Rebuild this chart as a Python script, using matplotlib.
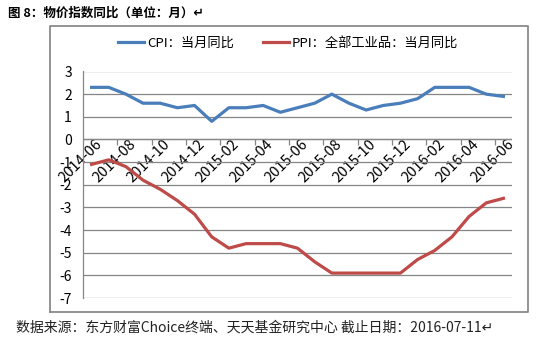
import matplotlib
matplotlib.use("Agg")
import matplotlib.pyplot as plt
from matplotlib.lines import Line2D
from matplotlib.transforms import ScaledTranslation

plt.rcParams['font.family'] = ['Noto Sans CJK SC', 'DejaVu Sans']

# 月份与同比数据（%）
months = ['2014-06', '2014-07', '2014-08', '2014-09', '2014-10', '2014-11', '2014-12',
          '2015-01', '2015-02', '2015-03', '2015-04', '2015-05', '2015-06', '2015-07',
          '2015-08', '2015-09', '2015-10', '2015-11', '2015-12', '2016-01', '2016-02',
          '2016-03', '2016-04', '2016-05', '2016-06']
cpi = [2.3, 2.3, 2.0, 1.6, 1.6, 1.4, 1.5, 0.8, 1.4, 1.4, 1.5, 1.2, 1.4, 1.6,
       2.0, 1.6, 1.3, 1.5, 1.6, 1.8, 2.3, 2.3, 2.3, 2.0, 1.9]
ppi = [-1.1, -0.9, -1.2, -1.8, -2.2, -2.7, -3.3, -4.3, -4.8, -4.6, -4.6, -4.6, -4.8, -5.4,
       -5.9, -5.9, -5.9, -5.9, -5.9, -5.3, -4.9, -4.3, -3.4, -2.8, -2.6]
cpi_label = 'CPI：当月同比'
ppi_label = 'PPI：全部工业品：当月同比'
yticks = list(range(-7, 4))

blue = '#4A7EBB'
red = '#BE4B48'
grid_c = '#868686'

fig = plt.figure(figsize=(5.57, 3.43), dpi=100)
W, H = 557, 343

# 标题与脚注
fig.text(8 / W, 1 - 13 / H, '图 8：物价指数同比（单位：月）↵', fontsize=9,
         fontweight='bold', ha='left', va='center')
fig.text(16 / W, 1 - 328 / H, '数据来源：东方财富Choice终端、天天基金研究中心 截止日期：2016-07-11↵',
         fontsize=10, ha='left', va='center', color='#222222')

ax = fig.add_axes([83 / W, 1 - 298 / H, (512 - 83) / W, (298 - 71.5) / H])
x = list(range(len(months)))
ax.plot(x, cpi, color=blue, linewidth=2.3, solid_joinstyle='round', zorder=3)
ax.plot(x, ppi, color=red, linewidth=2.3, solid_joinstyle='round', zorder=3)

# 图表外框
x0, x1, y0, y1 = 50 / W, 528 / W, 1 - 312 / H, 1 - 26 / H
ax.plot([x0, x1, x1, x0, x0], [y0, y0, y1, y1, y0], transform=fig.transFigure,
        clip_on=False, color='#8a8a8a', linewidth=1.3, zorder=5)

ax.set_xlim(-0.5, len(months) - 0.5)
ax.set_ylim(-7, 3)
ax.set_yticks(yticks)
ax.set_yticklabels([str(v) for v in yticks])
ax.yaxis.grid(True, color=grid_c, linewidth=0.9)
ax.set_axisbelow(True)
ax.tick_params(axis='y', length=0, pad=8, labelsize=10)

for s in ['top', 'right', 'bottom']:
    ax.spines[s].set_visible(False)
ax.spines['left'].set_color(grid_c)
ax.spines['left'].set_linewidth(0.9)

# 横轴放在零线处
ax.axhline(0, color=grid_c, linewidth=0.9, zorder=1)
ax.set_xticks(x[::2])
ax.set_xticklabels(months[::2])
ax.set_xticks([i - 0.5 for i in x[::2]][1:], minor=True)
ax.tick_params(axis='x', which='major', length=0, pad=0, labelsize=10.5)
ax.tick_params(axis='x', which='minor', length=4, color=grid_c, width=0.9)
ax.spines['bottom'].set_position(('data', 0))
for lbl in ax.get_xticklabels():
    lbl.set_rotation(45)
    lbl.set_ha('right')
    lbl.set_va('top')
    lbl.set_rotation_mode('anchor')
    lbl.set_transform(lbl.get_transform() + ScaledTranslation(0.03, 0.02, fig.dpi_scale_trans))

# 图例
handles = [Line2D([], [], color=blue, linewidth=2.3), Line2D([], [], color=red, linewidth=2.3)]
fig.legend(handles, [cpi_label, ppi_label], loc='center', bbox_to_anchor=(288 / W, 1 - 43 / H),
           ncol=2, frameon=False, fontsize=9.5, handlelength=2.0, handletextpad=0.2,
           columnspacing=2.2)

fig.savefig('out.png', dpi=100)
